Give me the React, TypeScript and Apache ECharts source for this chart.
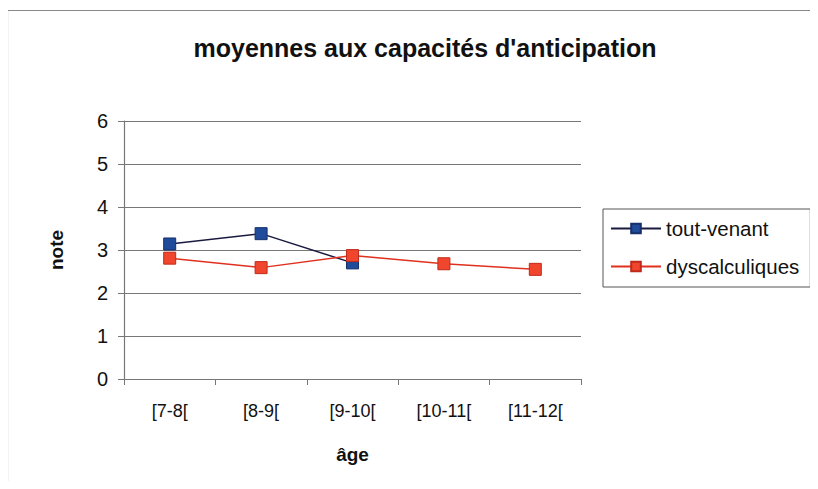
import React, { useEffect, useRef } from "react";
import * as echarts from "echarts";

const categories = ["[7-8[", "[8-9[", "[9-10[", "[10-11[", "[11-12["];
const toutVenant: (number | null)[] = [3.14, 3.38, 2.7, null, null];
const dyscalculiques: number[] = [2.81, 2.59, 2.87, 2.68, 2.55];
const yTicks = [0, 1, 2, 3, 4, 5, 6];

const FONT = "'Liberation Sans', Arial, sans-serif";

export default function App() {
  const ref = useRef<HTMLDivElement>(null);
  useEffect(() => {
    if (!ref.current) return;
    const chart = echarts.init(ref.current, undefined, { renderer: "svg" });
    chart.setOption({
      animation: false,
      backgroundColor: "#ffffff",
      textStyle: { fontFamily: FONT },
      graphic: [
        {
          type: "rect",
          shape: { x: 7.5, y: 10.5, width: 830, height: 500 },
          style: { fill: "none", stroke: "#888", lineWidth: 1.2 },
          silent: true,
        },
      ],
      title: {
        text: "moyennes aux capacités d'anticipation",
        left: 420,
        textAlign: "center",
        top: 30,
        textStyle: { fontFamily: FONT, fontSize: 25, fontWeight: "bold", color: "#111" },
      },
      legend: {
        orient: "vertical",
        left: 603,
        top: 209,
        padding: [9, 11, 10, 7],
        itemGap: 17,
        itemWidth: 50,
        itemHeight: 12,
        borderColor: "#555",
        borderWidth: 1,
        textStyle: { fontFamily: FONT, fontSize: 20.5, color: "#111", lineHeight: 20 },
        data: ["tout-venant", "dyscalculiques"],
      },
      grid: { left: 124, right: 237, top: 121, bottom: 110 },
      xAxis: {
        type: "category",
        data: categories,
        boundaryGap: true,
        name: "âge",
        nameLocation: "middle",
        nameGap: 66,
        nameTextStyle: { fontFamily: FONT, fontSize: 19, fontWeight: "bold", color: "#111" },
        axisLine: { lineStyle: { color: "#777", width: 1.2 } },
        axisTick: { show: true, length: 6, lineStyle: { color: "#777" } },
        axisLabel: { margin: 23, fontFamily: FONT, fontSize: 18, color: "#111", interval: 0 },
      },
      yAxis: {
        type: "value",
        min: yTicks[0],
        max: yTicks[yTicks.length - 1],
        interval: 1,
        name: "note",
        nameLocation: "middle",
        nameGap: 58,
        nameRotate: 90,
        nameTextStyle: { fontFamily: FONT, fontSize: 19, fontWeight: "bold", color: "#111" },
        axisLine: { show: true, lineStyle: { color: "#777", width: 1.2 } },
        axisTick: { show: true, length: 6, lineStyle: { color: "#777" } },
        axisLabel: { margin: 16, fontFamily: FONT, fontSize: 20, color: "#111" },
        splitLine: { show: true, lineStyle: { color: "#777", width: 1.2 } },
      },
      series: [
        {
          name: "tout-venant",
          type: "line",
          data: toutVenant,
          symbol: "rect",
          symbolSize: 12,
          connectNulls: false,
          lineStyle: { color: "#1a1a40", width: 1.5 },
          itemStyle: { color: "#1f4b9a", borderColor: "#15306a", borderWidth: 1 },
        },
        {
          name: "dyscalculiques",
          type: "line",
          data: dyscalculiques,
          symbol: "rect",
          symbolSize: 12,
          lineStyle: { color: "#e0301e", width: 1.5 },
          itemStyle: { color: "#f0462e", borderColor: "#c02a1a", borderWidth: 1 },
        },
      ],
    });
    return () => chart.dispose();
  }, []);
  return <div ref={ref} style={{ width: 818, height: 489, margin: -8 }} />;
}
